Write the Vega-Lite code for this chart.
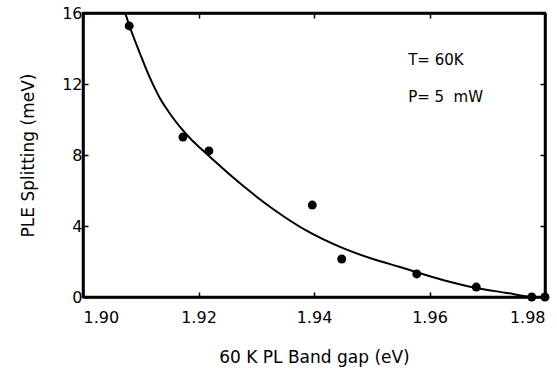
{
  "$schema": "https://vega.github.io/schema/vega-lite/v6.json",
  "width": 462,
  "height": 284,
  "autosize": "none",
  "padding": {"left": 83, "top": 13, "right": 12, "bottom": 71},
  "background": "white",
  "config": {
    "font": "DejaVu Sans",
    "view": {"stroke": "black", "strokeWidth": 2.5},
    "axis": {
      "grid": false,
      "domainColor": "black",
      "domainWidth": 2.5,
      "tickColor": "black",
      "tickWidth": 1.5,
      "tickSize": -5,
      "labelColor": "black",
      "labelFontSize": 16,
      "labelFont": "DejaVu Sans",
      "titleColor": "black",
      "titleFontSize": 17,
      "titleFontWeight": "normal",
      "titleFont": "DejaVu Sans"
    }
  },
  "datasets": {
    "fit": [
      {"gap": 1.9073, "split": 16.0},
      {"gap": 1.9083, "split": 15.04},
      {"gap": 1.9099, "split": 13.69},
      {"gap": 1.9116, "split": 12.34},
      {"gap": 1.9133, "split": 11.21},
      {"gap": 1.9151, "split": 10.31},
      {"gap": 1.9168, "split": 9.58},
      {"gap": 1.9185, "split": 8.96},
      {"gap": 1.9203, "split": 8.39},
      {"gap": 1.9220, "split": 7.89},
      {"gap": 1.9255, "split": 6.87},
      {"gap": 1.9284, "split": 6.08},
      {"gap": 1.9329, "split": 4.96},
      {"gap": 1.9388, "split": 3.72},
      {"gap": 1.9445, "split": 2.82},
      {"gap": 1.9502, "split": 2.14},
      {"gap": 1.9549, "split": 1.69},
      {"gap": 1.9623, "split": 0.96},
      {"gap": 1.9681, "split": 0.51},
      {"gap": 1.9734, "split": 0.23},
      {"gap": 1.9778, "split": 0.0},
      {"gap": 1.9800, "split": 0.0}
    ],
    "measured": [
      {"gap": 1.9080, "split": 15.27},
      {"gap": 1.9173, "split": 9.01},
      {"gap": 1.9218, "split": 8.23},
      {"gap": 1.9397, "split": 5.18},
      {"gap": 1.9448, "split": 2.14},
      {"gap": 1.9578, "split": 1.30},
      {"gap": 1.9681, "split": 0.56},
      {"gap": 1.9777, "split": 0.0},
      {"gap": 1.9800, "split": 0.0}
    ],
    "notes": [
      {"gap": 1.9563, "split": 13.35, "label": "T= 60K"},
      {"gap": 1.9563, "split": 11.27, "label": "P= 5\u00a0\u00a0mW"}
    ]
  },
  "resolve": {"axis": {"x": "independent", "y": "independent"}},
  "layer": [
    {
      "data": {"name": "fit"},
      "mark": {"type": "line", "color": "black", "strokeWidth": 2, "interpolate": "monotone"},
      "encoding": {
        "x": {
          "field": "gap", "type": "quantitative",
          "scale": {"domain": [1.90, 1.98], "nice": false, "zero": false},
          "axis": {"orient": "bottom", "values": [1.90, 1.92, 1.94, 1.96, 1.98], "format": ".2f", "labelPadding": 17, "title": "60 K PL Band gap (eV)", "titlePadding": 24}
        },
        "y": {
          "field": "split", "type": "quantitative",
          "scale": {"domain": [0, 16], "nice": false, "zero": false},
          "axis": {"orient": "left", "values": [0, 4, 8, 12, 16], "labelPadding": 6, "title": "PLE Splitting (meV)", "titlePadding": 24}
        }
      }
    },
    {
      "data": {"name": "measured"},
      "mark": {"type": "point", "filled": true, "color": "black", "opacity": 1, "size": 80},
      "encoding": {
        "x": {
          "field": "gap", "type": "quantitative",
          "axis": {"orient": "top", "values": [1.90, 1.92, 1.94, 1.96, 1.98], "labels": false, "title": null}
        },
        "y": {
          "field": "split", "type": "quantitative",
          "axis": {"orient": "right", "values": [0, 4, 8, 12, 16], "labels": false, "title": null}
        }
      }
    },
    {
      "data": {"name": "notes"},
      "mark": {"type": "text", "align": "left", "baseline": "middle", "fontSize": 15, "color": "black", "font": "DejaVu Sans"},
      "encoding": {
        "x": {"field": "gap", "type": "quantitative", "axis": null},
        "y": {"field": "split", "type": "quantitative", "axis": null},
        "text": {"field": "label"}
      }
    }
  ]
}
